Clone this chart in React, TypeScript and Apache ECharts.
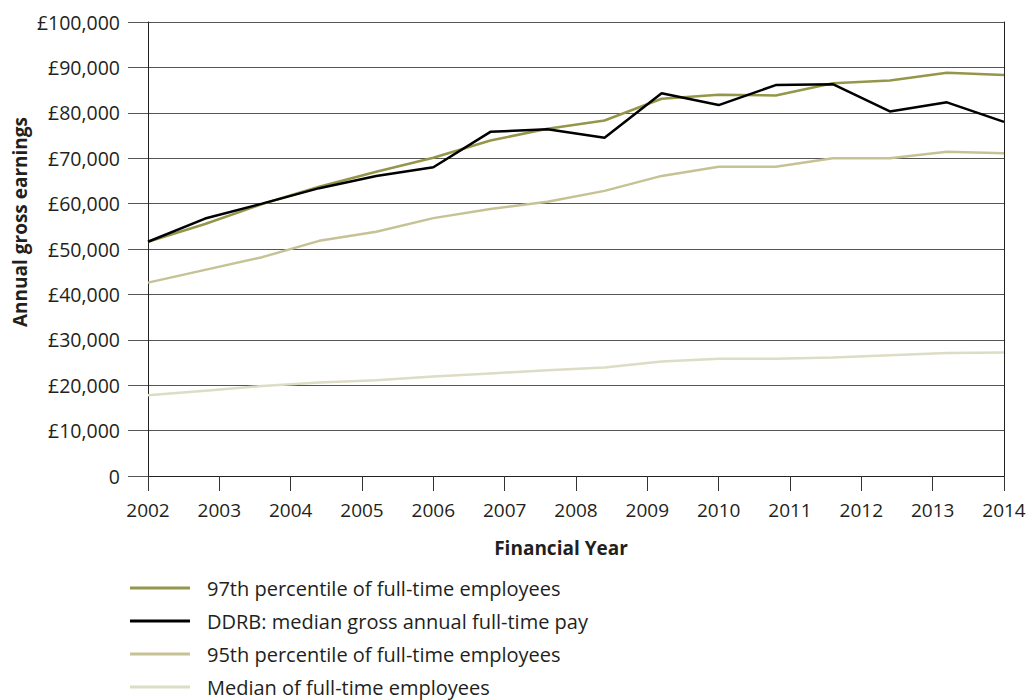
import React, { useEffect, useRef } from "react";
import * as echarts from "echarts";

const xPoints = [2002, 2002.8, 2003.6, 2004.4, 2005.2, 2006, 2006.8, 2007.6, 2008.4, 2009.2, 2010, 2010.8, 2011.6, 2012.4, 2013.2, 2014];
const seriesNames = [
  "97th percentile of full-time employees",
  "DDRB: median gross annual full-time pay",
  "95th percentile of full-time employees",
  "Median of full-time employees",
];
const p97 = [51600, 55500, 59900, 63700, 67000, 70100, 73900, 76500, 78300, 83100, 84000, 83800, 86500, 87100, 88800, 88300];
const ddrb = [51600, 56700, 60000, 63400, 66100, 68000, 75800, 76400, 74500, 84300, 81700, 86100, 86300, 80300, 82300, 78000];
const p95 = [42600, 45400, 48200, 51800, 53800, 56800, 58800, 60400, 62800, 66100, 68100, 68100, 70000, 70000, 71400, 71100];
const median = [17800, 18800, 19800, 20600, 21100, 21900, 22600, 23300, 23900, 25200, 25800, 25800, 26100, 26600, 27100, 27200];
const colors = ["#96964A", "#000000", "#C6C296", "#DDDCC4"];

const FONT = "'Open Sans', 'Noto Sans', sans-serif";
const TEXT = "#231F20";

export default function App() {
  const ref = useRef<HTMLDivElement>(null);
  useEffect(() => {
    const chart = echarts.init(ref.current!, null, { renderer: "svg" });
    const values = [p97, ddrb, p95, median];
    chart.setOption({
      animation: false,
      backgroundColor: "#ffffff",
      textStyle: { fontFamily: FONT, color: TEXT },
      grid: { left: 148, right: 26, top: 22, bottom: 224, containLabel: false },
      xAxis: {
        type: "value",
        min: 2002,
        max: 2014,
        interval: 1,
        name: "Financial Year",
        nameLocation: "middle",
        nameGap: 62,
        nameTextStyle: { fontFamily: FONT, fontSize: 19, fontWeight: "bold", color: TEXT, padding: [0, 30, 0, 0] },
        axisLine: { show: true, lineStyle: { color: "#222", width: 1 } },
        axisTick: { show: true, length: 15, lineStyle: { color: "#333", width: 1 } },
        axisLabel: { fontFamily: FONT, fontSize: 19, color: TEXT, margin: 24, formatter: (v: number) => String(v) },
        splitLine: { show: false },
      },
      yAxis: [
        {
          type: "value",
          min: 0,
          max: 100000,
          interval: 10000,
          axisLine: { show: true, lineStyle: { color: "#222", width: 1 } },
          axisTick: { show: true, length: 20, lineStyle: { color: "#555", width: 1 } },
          axisLabel: {
            fontFamily: FONT,
            fontSize: 19.5,
            color: TEXT,
            margin: 28,
            formatter: (v: number) => (v === 0 ? "0" : "£" + v.toLocaleString("en-GB")),
          },
          splitLine: { show: true, lineStyle: { color: "#555555", width: 1 } },
        },
        {
          type: "value",
          min: 0,
          max: 100000,
          interval: 10000,
          position: "right",
          axisLine: { show: true, lineStyle: { color: "#222", width: 1 } },
          axisTick: { show: false },
          axisLabel: { show: false },
          splitLine: { show: false },
        },
      ],
      legend: {
        orient: "vertical",
        left: 130,
        top: 577,
        height: 200,
        padding: 0,
        itemWidth: 60,
        itemHeight: 3,
        itemGap: 11,
        icon: "rect",
        data: seriesNames,
        textStyle: { fontFamily: FONT, fontSize: 20, color: TEXT, lineHeight: 22, padding: [0, 0, 0, 12] },
      },
      graphic: [
        {
          type: "text",
          x: 20,
          y: 222,
          rotation: Math.PI / 2,
          style: {
            text: "Annual gross earnings",
            fontFamily: FONT,
            fontSize: 19,
            fontWeight: "bold",
            fill: TEXT,
            textAlign: "center",
            textVerticalAlign: "middle",
          },
        },
      ],
      series: seriesNames.map((name, i) => ({
        name,
        type: "line",
        data: xPoints.map((x, j) => [x, values[i][j]]),
        showSymbol: false,
        symbol: "none",
        lineStyle: { color: colors[i], width: 2.5 },
        itemStyle: { color: colors[i] },
        z: i === 1 ? 4 : 3,
      })),
    });
    return () => chart.dispose();
  }, []);
  return <div ref={ref} style={{ width: 1030, height: 700, position: "absolute", left: 0, top: 0 }} />;
}
